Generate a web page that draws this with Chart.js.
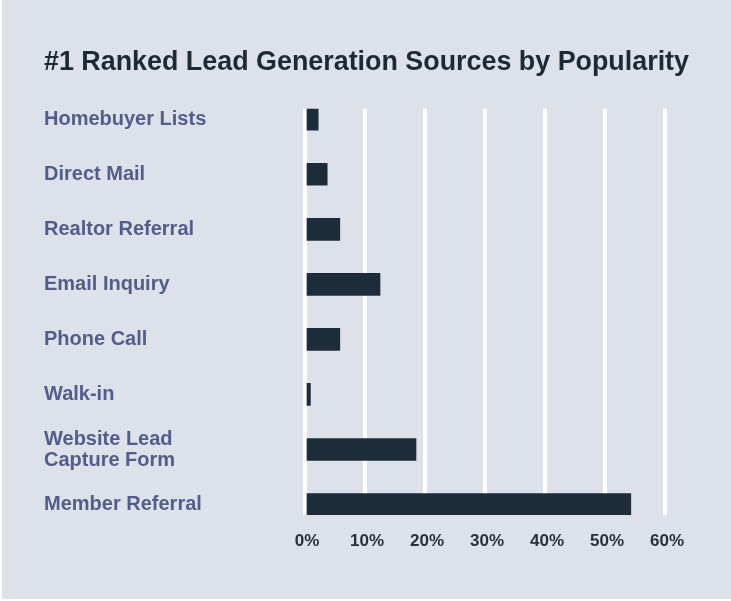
<!DOCTYPE html>
<html>
<head>
<meta charset="utf-8">
<script src="https://cdn.jsdelivr.net/npm/chart.js@4"></script>
<style>
  html, body { margin: 0; padding: 0; background: #ffffff; }
  .wrap { position: absolute; left: 2px; top: 0; width: 729px; height: 599px; background: #dde1e9; }
</style>
</head>
<body>
<div class="wrap"><canvas id="lead-chart" width="729" height="599"></canvas></div>
<script>
const categories = [
  "Homebuyer Lists",
  "Direct Mail",
  "Realtor Referral",
  "Email Inquiry",
  "Phone Call",
  "Walk-in",
  ["Website Lead", "Capture Form"],
  "Member Referral",
];
const shares = [2.2, 3.7, 5.8, 12.5, 5.8, 0.9, 18.5, 54.3];
const xTicks = [0, 10, 20, 30, 40, 50, 60];

const ctx = document.getElementById("lead-chart");
const chart = new Chart(ctx, {
  type: "bar",
  data: {
    datasets: [
      {
        data: shares.map((v, i) => ({ x: v, y: i })),
        backgroundColor: "#1c2c3b",
        borderWidth: 0,
        barThickness: 22,
      },
    ],
  },
  options: {
    indexAxis: "y",
    responsive: false,
    animation: false,
    layout: { padding: { left: 42, right: 42, top: 0, bottom: 0 } },
    plugins: {
      legend: { display: false },
      tooltip: { enabled: false },
      title: {
        display: true,
        text: "#1 Ranked Lead Generation Sources by Popularity",
        color: "#1c2a38",
        font: { family: "'Liberation Sans', Arial, sans-serif", size: 27.3, weight: "bold" },
        padding: { top: 46, bottom: 30 },
      },
    },
    scales: {
      x: {
        type: "linear",
        min: 0,
        max: 64,
        afterBuildTicks: (scale) => {
          scale.ticks = xTicks.map((v) => ({ value: v }));
        },
        afterFit: (scale) => {
          scale.height = 84;
        },
        grid: { color: "#ffffff", lineWidth: 4, drawTicks: false },
        border: { display: false },
        ticks: {
          padding: 16,
          labelOffset: 2,
          color: "#27313d",
          font: { family: "'Liberation Sans', Arial, sans-serif", size: 17, weight: "bold" },
          callback: (v) => v + "%",
        },
      },
      y: {
        type: "linear",
        reverse: true,
        offset: false,
        min: -0.19,
        max: 7.19,
        afterBuildTicks: (scale) => {
          scale.ticks = categories.map((_, i) => ({ value: i }));
        },
        afterFit: (scale) => {
          scale.width = 303 - 42;
        },
        grid: { display: false },
        border: { display: false },
        ticks: {
          crossAlign: "far",
          color: "#525d8b",
          font: { family: "'Liberation Sans', Arial, sans-serif", size: 20, weight: "bold", lineHeight: 1.05 },
          callback: (v) => categories[v],
        },
      },
    },
  },
});
</script>
</body>
</html>
